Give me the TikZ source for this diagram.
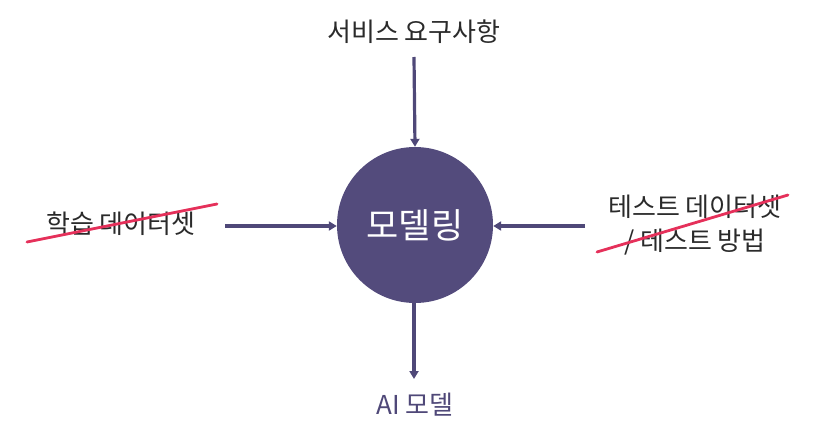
\documentclass[tikz,border=0pt]{standalone}
\usepackage{fontspec}
\setmainfont{Noto Sans CJK KR}
\usetikzlibrary{arrows.meta}
\definecolor{circ}{HTML}{534B7C}
\definecolor{arr}{HTML}{4F4878}
\definecolor{txt}{HTML}{2A2A2A}
\definecolor{strike}{HTML}{E5305A}
\begin{document}
\begin{tikzpicture}[x=1pt,y=-1pt,
  lbl/.style={font=\fontsize{26}{32}\selectfont, text=txt, inner sep=0pt, align=center},
  conn/.style={draw=arr, line width=3.2pt, -{Triangle[width=9pt,length=8pt]}},
  strk/.style={draw=strike, line width=2.8pt, line cap=round}]
\useasboundingbox (0,0) rectangle (822,433);
\node[circle, fill=circ, minimum size=156pt, inner sep=0pt, text=white,
  font=\fontsize{35}{40}\selectfont] (model) at (415,225) {모델링};
\node[lbl] (req) at (414,32) {서비스 요구사항};
\node[lbl] (train) at (121,224) {학습 데이터셋};
\node[lbl, font=\fontsize{26}{34}\selectfont] (test) at (695,225) {테스트 데이터셋\\/ 테스트 방법};
\node[lbl, text=arr, font=\fontsize{26}{30}\selectfont] (ai) at (415,405) {AI 모델};
\coordinate (reqend) at (414,57);
\coordinate (trainend) at (225,226);
\coordinate (testend) at (585,226);
\coordinate (modelbot) at (414,303);
\coordinate (aitop) at (414,379);
\draw[conn] (reqend) -- (model.north);
\draw[conn] (trainend) -- (model.west |- trainend);
\draw[conn] (testend) -- (model.east |- testend);
\draw[conn] (modelbot) -- (aitop);
\coordinate (s1a) at (27,242);
\coordinate (s1b) at (217,204);
\coordinate (s2a) at (597,252);
\coordinate (s2b) at (788,195);
\draw[strk] (s1a) -- (s1b);
\draw[strk] (s2a) -- (s2b);
\end{tikzpicture}
\end{document}
